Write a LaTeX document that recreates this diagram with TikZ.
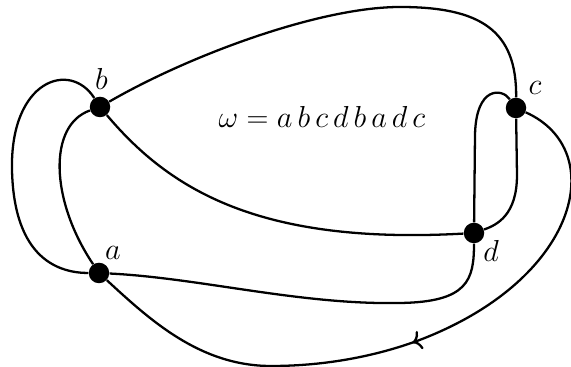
\documentclass[tikz,border=0pt]{standalone}
\usepackage{amsmath}
\usetikzlibrary{arrows.meta,decorations.markings}

\begin{document}
\begin{tikzpicture}[
  font=\fontsize{17}{20}\selectfont,
  vert/.style={circle, fill=black, inner sep=0pt, minimum size=0.41cm},
  edge/.style={line width=1.3pt},
  midarrow/.style={postaction={decorate}, decoration={markings,
    mark=at position #1 with {\arrow[line width=1.3pt]{Computer Modern Rightarrow[length=5pt,width=11pt]}}}}
]
\useasboundingbox (0,0) rectangle (11.42,7.34);
\node[vert] (b) at (2.00,5.20) {};
\node[vert] (a) at (1.98,1.88) {};
\node[vert] (c) at (10.32,5.18) {};
\node[vert] (d) at (9.48,2.68) {};
\node (lb) at (2.03,5.77) {$b$};
\node (la) at (2.26,2.28) {$a$};
\node (lc) at (10.70,5.58) {$c$};
\node (ld) at (9.82,2.32) {$d$};
\node[anchor=base] (word) at (6.44,4.78) {$\omega = a\,b\,c\,d\,b\,a\,d\,c$};
% a -> b (outer)
\draw[edge] (a) .. controls (1.20,1.88) and (0.28,2.14) .. (0.24,3.94)
  .. controls (0.20,5.74) and (1.40,6.14) .. (b);
% b -> c
\draw[edge] (b) .. controls (3.80,6.24) and (6.40,7.20) .. (8.00,7.20)
  .. controls (9.60,7.20) and (10.34,6.74) .. (c);
% c -> d
\draw[edge] (c) -- (10.34,3.84) .. controls (10.34,3.04) and (9.94,2.84) .. (d);
% d -> b
\draw[edge] (d) .. controls (5.20,2.44) and (3.40,3.54) .. (b);
% b -> a (inner)
\draw[edge] (b) .. controls (0.96,4.84) and (1.00,3.34) .. (a);
% a -> d
\draw[edge] (a) .. controls (4.00,1.78) and (6.00,1.24) .. (8.00,1.28)
  .. controls (9.36,1.30) and (9.48,1.74) .. (d);
% d -> c
\draw[edge] (d) -- (9.50,4.64) .. controls (9.52,5.62) and (10.04,5.58) .. (c);
% c -> a
\draw[edge, midarrow=0.495] (c) .. controls (12.20,4.34) and (11.60,1.74) .. (8.34,0.52)
  .. controls (7.40,0.18) and (6.40,0.02) .. (5.42,0.02)
  .. controls (4.00,0.02) and (3.00,0.94) .. (a);
\end{tikzpicture}
\end{document}
